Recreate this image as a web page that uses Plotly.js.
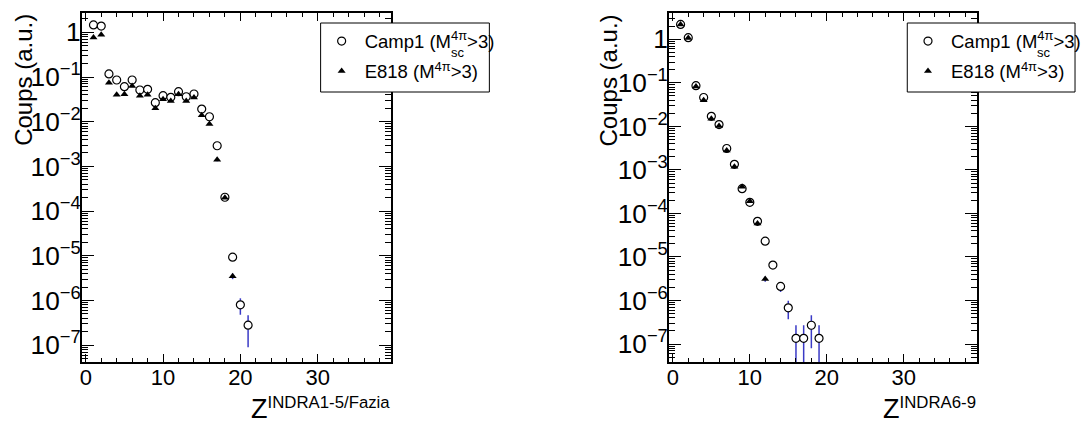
<!DOCTYPE html>
<html>
<head>
<meta charset="utf-8">
<script src="https://cdn.plot.ly/plotly-3.0.1.min.js"></script>
<style>html,body{margin:0;padding:0;background:#fff;}#chart{width:1086px;height:424px;}</style>
</head>
<body>
<div id="chart"></div>
<script>
// ---- Data ----
const zLeftCamp1 = [1,2,3,4,5,6,7,8,9,10,11,12,13,14,15,16,17,18,19,20,21];
const yLeftCamp1 = [1.46,1.38,0.117,0.0857,0.0607,0.0857,0.0512,0.053,0.0266,0.0382,0.0351,0.0469,0.0362,0.0417,0.0192,0.0129,0.0029,2.04e-4,9.3e-6,8.0e-7,2.8e-7];
const eLeftCamp1 = [0.004,0.004,0.0012,0.001,0.0009,0.001,0.0008,0.0008,0.0006,0.0007,0.0007,0.0008,0.0007,0.0007,0.0005,0.0004,0.0002,5e-6,1.1e-6,3.2e-7,1.9e-7];

const zLeftE818 = [1,2,3,4,5,6,7,8,9,10,11,12,13,14,15,16,17,18,19];
const yLeftE818 = [0.77,0.88,0.074,0.040,0.041,0.063,0.038,0.040,0.020,0.032,0.029,0.041,0.029,0.035,0.014,0.0089,0.0014,2.0e-4,3.5e-6];
const eLeftE818 = [0.003,0.003,0.001,0.0007,0.0007,0.0009,0.0006,0.0007,0.0005,0.0006,0.0006,0.0007,0.0006,0.0006,0.0004,0.0003,0.0001,4e-6,5e-7];

const zRightCamp1 = [1,2,3,4,5,6,7,8,9,10,11,12,13,14,15,16,17,18,19];
const yRightCamp1 = [2.2,1.09,0.086,0.046,0.017,0.011,0.0031,0.00134,3.7e-4,1.8e-4,6.6e-5,2.3e-5,6.5e-6,2.1e-6,6.8e-7,1.35e-7,1.35e-7,2.7e-7,1.35e-7];
const eRightCamp1 = [0.005,0.004,0.001,0.0008,0.0004,0.0003,0.0001,5e-5,1e-5,7e-6,4e-6,1.8e-6,9.4e-7,5.4e-7,3.1e-7,1.35e-7,1.35e-7,1.9e-7,1.35e-7];

const zRightE818 = [1,2,3,4,5,6,7,8,9,10,11,12];
const yRightE818 = [2.2,1.07,0.082,0.040,0.015,0.0102,0.0028,0.00118,4.1e-4,1.9e-4,5.9e-5,3.1e-6];
const eRightE818 = [0.005,0.004,0.001,0.0007,0.0003,0.0002,0.0001,4e-5,1e-5,6e-6,3e-6,4e-7];

const nameCamp1 = 'Camp1 (M<sup>4π</sup>&gt;3)';
const nameE818 = 'E818 (M<sup>4π</sup>&gt;3)';
const subSc = 'sc';
const xTitleMain = 'Z';
const xSupLeft = 'INDRA1-5/Fazia';
const xSupRight = 'INDRA6-9';
const yTitle = 'Coups (a.u.)';
const xTickVals = [0,10,20,30];

// ---- Styles ----
const FONT = 'Liberation Sans, Arial, Helvetica, sans-serif';
const W = 1086, H = 424;
const px = v => v / W;
const py = v => (H - v) / H;
const errColor = '#3a3ac6';

function circleTrace(x, y, e, xa, ya, leg) {
  return {
    type: 'scatter', mode: 'markers', x: x, y: y, xaxis: xa, yaxis: ya,
    name: nameCamp1, legend: leg, legendgroup: leg + 'a', showlegend: true,
    marker: {symbol: 'circle', size: 8, color: '#ffffff', line: {color: '#000', width: 1.2}},
    error_y: {type: 'data', array: e, visible: true, color: errColor, thickness: 1.5, width: 0},
    hoverinfo: 'x+y'
  };
}
function triTrace(x, y, e, xa, ya, leg) {
  return {
    type: 'scatter', mode: 'markers', x: x, y: y, xaxis: xa, yaxis: ya,
    name: nameE818, legend: leg, legendgroup: leg + 'b', showlegend: true,
    marker: {symbol: 'triangle-up', size: 7, color: '#000', line: {width: 0}},
    error_y: {type: 'data', array: e, visible: true, color: errColor, thickness: 1.5, width: 0},
    hoverinfo: 'x+y'
  };
}

const traces = [
  circleTrace(zLeftCamp1, yLeftCamp1, eLeftCamp1, 'x', 'y', 'legend'),
  triTrace(zLeftE818, yLeftE818, eLeftE818, 'x', 'y', 'legend'),
  circleTrace(zRightCamp1, yRightCamp1, eRightCamp1, 'x2', 'y2', 'legend2'),
  triTrace(zRightE818, yRightE818, eRightE818, 'x2', 'y2', 'legend2')
];

function xAxis(domain, anchor) {
  return {
    domain: domain, anchor: anchor, range: [-0.5, 39.5],
    tickmode: 'array', tickvals: xTickVals,
    ticks: 'inside', ticklen: 8, tickwidth: 1, tickcolor: '#000',
    ticklabelstandoff: -5,
    minor: {dtick: 2, tick0: 0, ticks: 'inside', ticklen: 4, tickwidth: 1, tickcolor: '#000', showgrid: false},
    showline: true, linecolor: '#000', linewidth: 2, mirror: 'ticks',
    showgrid: false, zeroline: false,
    tickfont: {family: FONT, size: 22, color: '#000'}
  };
}
function yAxis(domain, anchor, range) {
  return {
    domain: domain, anchor: anchor, type: 'log', range: range,
    dtick: 1, exponentformat: 'power',
    ticks: 'inside', ticklen: 12, tickwidth: 1, tickcolor: '#000',
    ticklabelstandoff: -5,
    minor: {dtick: 'D1', ticks: 'inside', ticklen: 6, tickwidth: 1, tickcolor: '#000', showgrid: false},
    showline: true, linecolor: '#000', linewidth: 2, mirror: 'ticks',
    showgrid: false, zeroline: false,
    tickfont: {family: FONT, size: 21, color: '#000'}
  };
}

const yDom = [py(362), py(13)];

const legendCommon = {
  yanchor: 'top', xanchor: 'left', bgcolor: 'rgba(0,0,0,0)', borderwidth: 0,
  font: {family: FONT, size: 18.5, color: '#000'}, tracegroupgap: 3, itemwidth: 36
};

const layout = {
  width: W, height: H,
  margin: {l: 0, r: 0, t: 0, b: 0},
  paper_bgcolor: '#fff', plot_bgcolor: '#fff',
  font: {family: FONT, color: '#000'},
  showlegend: true,
  xaxis: xAxis([px(82.5), px(394)], 'y'),
  yaxis: yAxis(yDom, 'x', [-7.376, 0.432]),
  xaxis2: xAxis([px(674), px(984)], 'y2'),
  yaxis2: yAxis(yDom, 'x2', [-7.413, 0.604]),
  legend: Object.assign({x: px(321), y: py(22.5)}, legendCommon),
  legend2: Object.assign({x: px(912), y: py(22.5)}, legendCommon),
  shapes: [
    {type: 'rect', xref: 'paper', yref: 'paper', x0: px(323), x1: px(493), y0: py(92), y1: py(23),
     fillcolor: '#fff', line: {color: '#000', width: 1}, layer: 'above'},
    {type: 'rect', xref: 'paper', yref: 'paper', x0: px(914), x1: px(1083), y0: py(92), y1: py(23),
     fillcolor: '#fff', line: {color: '#000', width: 1}, layer: 'above'}
  ],
  annotations: [
    {text: yTitle, xref: 'paper', yref: 'paper', x: px(23), y: py(12), xanchor: 'center', yanchor: 'top',
     textangle: -90, showarrow: false, font: {family: FONT, size: 24, color: '#000'}},
    {text: yTitle, xref: 'paper', yref: 'paper', x: px(613), y: py(12), xanchor: 'center', yanchor: 'top',
     textangle: -90, showarrow: false, font: {family: FONT, size: 24, color: '#000'}},
    {text: '<span style="font-size:27px">' + xTitleMain + '</span><sup>' + xSupLeft + '</sup>',
     xref: 'paper', yref: 'paper', x: px(394), y: 0, xanchor: 'right', yanchor: 'bottom',
     xshift: 1, yshift: -2,
     showarrow: false, font: {family: FONT, size: 24, color: '#000'}},
    {text: '<span style="font-size:27px">' + xTitleMain + '</span><sup>' + xSupRight + '</sup>',
     xref: 'paper', yref: 'paper', x: px(985), y: 0, xanchor: 'right', yanchor: 'bottom',
     xshift: 0, yshift: -2,
     showarrow: false, font: {family: FONT, size: 24, color: '#000'}},
    {text: subSc, xref: 'paper', yref: 'paper', x: px(461), y: py(52.5), xanchor: 'center', yanchor: 'middle',
     showarrow: false, font: {family: FONT, size: 13, color: '#000'}},
    {text: subSc, xref: 'paper', yref: 'paper', x: px(1052), y: py(52.5), xanchor: 'center', yanchor: 'middle',
     showarrow: false, font: {family: FONT, size: 13, color: '#000'}}
  ]
};

Plotly.newPlot('chart', traces, layout, {displayModeBar: false, staticPlot: true});
</script>
</body>
</html>
